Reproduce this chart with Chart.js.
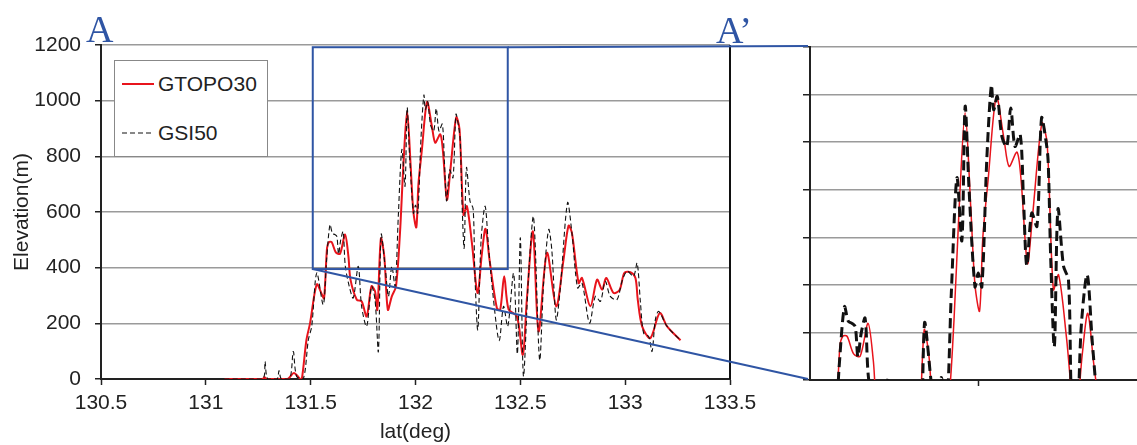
<!DOCTYPE html>
<html>
<head>
<meta charset="utf-8">
<script src="https://cdn.jsdelivr.net/npm/chart.js@4.4.1/dist/chart.umd.min.js"></script>
<style>
  html, body { margin: 0; padding: 0; background: #fff; }
  #wrap { position: relative; width: 1137px; height: 445px; overflow: hidden; font-family: 'Liberation Sans', Arial, sans-serif; }
  #wrap canvas { position: absolute; left: 0; top: 0; }
  .mark { position: absolute; font-family: 'Liberation Serif', 'Times New Roman', serif; font-size: 38px; color: #2f55a4; line-height: 1; }
  #legend { position: absolute; left: 114px; top: 60px; width: 152px; height: 95px; border: 1px solid #888; background: #fff; }
  #legend .row { position: absolute; left: 7px; height: 26px; display: flex; align-items: center; font-size: 21px; color: #222; }
  #legend svg { margin-right: 4px; }
</style>
</head>
<body>
<div id="wrap">
  <canvas id="main" width="1137" height="445"></canvas>
  <canvas id="zoom" width="1137" height="445"></canvas>
  <div class="mark" style="left:86px; top:10px;">A</div>
  <div class="mark" style="left:716px; top:11px;">A’</div>
  <div id="legend">
    <div class="row" style="top:10px;"><svg width="32" height="4"><line x1="0" y1="2" x2="32" y2="2" stroke="#e8141c" stroke-width="2"/></svg>GTOPO30</div>
    <div class="row" style="top:59px;"><svg width="32" height="4"><line x1="0" y1="2" x2="32" y2="2" stroke="#111" stroke-width="1.2" stroke-dasharray="5,3"/></svg>GSI50</div>
  </div>
</div>
<script>
// GTOPO30 profile (red)
const gtopoLat = [131.09, 131.20, 131.27, 131.28, 131.29, 131.39, 131.42, 131.45, 131.458, 131.48, 131.497, 131.529, 131.553, 131.564, 131.578, 131.587, 131.600, 131.62, 131.64, 131.664, 131.68, 131.69, 131.72, 131.743, 131.767, 131.79, 131.807, 131.818, 131.835, 131.851, 131.868, 131.887, 131.907, 131.926, 131.942, 131.960, 131.977, 131.990, 132.004, 132.014, 132.030, 132.055, 132.078, 132.094, 132.118, 132.130, 132.150, 132.165, 132.194, 132.21, 132.229, 132.245, 132.269, 132.296, 132.317, 132.334, 132.353, 132.388, 132.404, 132.423, 132.444, 132.484, 132.512, 132.531, 132.560, 132.587, 132.627, 132.671, 132.706, 132.73, 132.746, 132.778, 132.794, 132.834, 132.866, 132.89, 132.91, 132.945, 132.974, 132.996, 133.025, 133.049, 133.06, 133.081, 133.12, 133.165, 133.2, 133.264];
const gtopoElev = [0, 0, 0, 6, 0, 0, 22, 0, 0, 141, 200, 340, 305, 290, 470, 492, 492, 455, 450, 519, 441, 357, 285, 279, 225, 333, 315, 249, 505, 441, 249, 297, 333, 525, 765, 962, 765, 600, 545, 700, 820, 995, 909, 849, 879, 825, 645, 741, 940, 897, 590, 621, 489, 309, 453, 540, 429, 255, 249, 369, 250, 225, 87, 285, 530, 171, 453, 261, 429, 551, 525, 345, 363, 261, 357, 321, 363, 309, 321, 381, 384, 363, 285, 189, 147, 237, 189, 139];

// GSI50 profile (black dashed)
const gsiLat = [131.09, 131.27, 131.282, 131.295, 131.34, 131.349, 131.36, 131.40, 131.417, 131.433, 131.465, 131.489, 131.505, 131.529, 131.56, 131.576, 131.592, 131.604, 131.615, 131.625, 131.633, 131.643, 131.655, 131.665, 131.684, 131.703, 131.727, 131.743, 131.767, 131.79, 131.807, 131.823, 131.836, 131.855, 131.871, 131.887, 131.903, 131.918, 131.935, 131.95, 131.96, 131.972, 131.99, 132.0, 132.011, 132.026, 132.04, 132.047, 132.058, 132.072, 132.087, 132.099, 132.112, 132.128, 132.138, 132.148, 132.163, 132.179, 132.193, 132.206, 132.213, 132.221, 132.232, 132.243, 132.26, 132.275, 132.283, 132.297, 132.313, 132.332, 132.348, 132.372, 132.399, 132.42, 132.44, 132.468, 132.486, 132.5, 132.515, 132.539, 132.563, 132.592, 132.611, 132.635, 132.65, 132.671, 132.69, 132.725, 132.746, 132.773, 132.794, 132.83, 132.858, 132.882, 132.905, 132.929, 132.961, 132.985, 133.009, 133.04, 133.057, 133.073, 133.088, 133.112, 133.128, 133.144, 133.16, 133.2, 133.264];
const gsiElev = [0, 0, 63, 0, 0, 30, 0, 0, 99, 9, 0, 141, 189, 381, 267, 429, 554, 523, 519, 512, 449, 498, 530, 407, 333, 291, 405, 261, 189, 333, 285, 99, 519, 405, 297, 405, 333, 585, 825, 693, 975, 800, 596, 625, 596, 863, 1020, 968, 996, 912, 891, 972, 891, 916, 779, 640, 751, 723, 951, 905, 861, 653, 470, 759, 639, 611, 381, 177, 501, 621, 477, 285, 138, 261, 189, 380, 90, 507, 9, 369, 582, 69, 345, 537, 465, 213, 321, 633, 525, 327, 345, 201, 297, 279, 351, 297, 285, 351, 387, 369, 417, 273, 165, 153, 99, 213, 243, 189, 139];

const xTicks = [130.5, 131, 131.5, 132, 132.5, 133, 133.5];
const yTicks = [0, 200, 400, 600, 800, 1000, 1200];
const zoomXTicks = [132];
const zoomYTicks = [400, 500, 600, 700, 800, 900, 1000, 1100];

// zoomed window (blue box)
const boxLat = [131.51, 132.44];
const boxElev = [395, 1192];

const RED = '#e8141c';
const BLUE = '#2f55a4';
const FONT = { family: "'Liberation Sans', Arial, sans-serif", size: 21 };

function pts(xs, ys) {
    return xs.map((x, i) => ({ x: x, y: ys[i] }));
}

const frame = {
    id: 'frame',
    afterDraw(chart) {
        const a = chart.chartArea, ctx = chart.ctx;
        ctx.save();
        ctx.strokeStyle = '#111';
        ctx.lineWidth = 2;
        ctx.beginPath();
        ctx.moveTo(a.right, a.top);
        ctx.lineTo(a.right, a.bottom);
        ctx.stroke();
        ctx.restore();
    }
};

const mainChart = new Chart(document.getElementById('main'), {
    type: 'line',
    data: {
        datasets: [
            { label: 'GTOPO30', data: pts(gtopoLat, gtopoElev), borderColor: RED, borderWidth: 2, pointRadius: 0, tension: 0.3, order: 1 },
            { label: 'GSI50', data: pts(gsiLat, gsiElev), borderColor: '#111', borderWidth: 1.1, borderDash: [5, 3], pointRadius: 0, tension: 0.3, order: 0 }
        ]
    },
    options: {
        responsive: false,
        animation: false,
        events: [],
        layout: { padding: { left: 0, top: 45, right: 407, bottom: 0 } },
        plugins: { legend: { display: false }, tooltip: { enabled: false } },
        scales: {
            x: {
                type: 'linear', min: 130.5, max: 133.5,
                afterBuildTicks: s => { s.ticks = xTicks.map(v => ({ value: v })); },
                afterFit: s => { s.height = 66; },
                grid: { drawOnChartArea: false, drawTicks: true, tickLength: 6, tickColor: '#222', tickWidth: 1.5 },
                border: { color: '#222', width: 2 },
                ticks: { color: '#222', font: FONT, padding: 6, maxRotation: 0, callback: v => String(v) },
                title: { display: true, text: 'lat(deg)', color: '#222', font: FONT, padding: { top: 0, bottom: 0 } }
            },
            y: {
                min: 0, max: 1200,
                afterBuildTicks: s => { s.ticks = yTicks.map(v => ({ value: v })); },
                afterFit: s => { s.width = 101; },
                grid: { color: '#9a9a9a', lineWidth: 1.5, tickLength: 6, tickColor: '#222', tickWidth: 1.5 },
                border: { color: '#222', width: 2 },
                ticks: { color: '#222', font: FONT, padding: 14, callback: v => String(v) },
                title: { display: true, text: 'Elevation(m)', color: '#222', font: FONT, padding: { top: 10, bottom: 0 } }
            }
        }
    },
    plugins: [frame]
});

const connector = {
    id: 'connector',
    afterDraw(chart) {
        const ctx = chart.ctx, a = chart.chartArea;
        const mx = mainChart.scales.x, my = mainChart.scales.y;
        const x0 = mx.getPixelForValue(boxLat[0]), x1 = mx.getPixelForValue(boxLat[1]);
        const y0 = my.getPixelForValue(boxElev[0]), y1 = my.getPixelForValue(boxElev[1]);
        ctx.save();
        ctx.strokeStyle = BLUE;
        ctx.lineWidth = 2;
        ctx.strokeRect(x0, y1, x1 - x0, y0 - y1);
        ctx.beginPath();
        ctx.moveTo(x1, y1);
        ctx.lineTo(a.left - 2, a.top - 1);
        ctx.moveTo(x0, y0);
        ctx.lineTo(a.left - 2, a.bottom - 1);
        ctx.stroke();
        ctx.restore();
    }
};

new Chart(document.getElementById('zoom'), {
    type: 'line',
    data: {
        datasets: [
            { label: 'GTOPO30', data: pts(gtopoLat, gtopoElev), borderColor: RED, borderWidth: 1.5, pointRadius: 0, tension: 0.3, order: 1 },
            { label: 'GSI50', data: pts(gsiLat, gsiElev), borderColor: '#111', borderWidth: 3, borderDash: [10, 5], pointRadius: 0, tension: 0.3, order: 0 }
        ]
    },
    options: {
        responsive: false,
        animation: false,
        events: [],
        layout: { padding: { left: 760, top: 47, right: 0, bottom: 45 } },
        plugins: { legend: { display: false }, tooltip: { enabled: false } },
        scales: {
            x: {
                type: 'linear', min: 131.487, max: 132.484,
                afterBuildTicks: s => { s.ticks = zoomXTicks.map(v => ({ value: v })); },
                afterFit: s => { s.height = 20; },
                grid: { drawOnChartArea: false, tickLength: 6, tickColor: '#222', tickWidth: 1.5 },
                border: { color: '#222', width: 2 },
                ticks: { display: false }
            },
            y: {
                min: 400, max: 1100,
                afterBuildTicks: s => { s.ticks = zoomYTicks.map(v => ({ value: v })); },
                afterFit: s => { s.width = 50; },
                grid: { color: '#9a9a9a', lineWidth: 1.5, tickLength: 7, tickColor: '#222', tickWidth: 1.5 },
                border: { color: '#222', width: 2 },
                ticks: { display: false }
            }
        }
    },
    plugins: [connector]
});
</script>
</body>
</html>
